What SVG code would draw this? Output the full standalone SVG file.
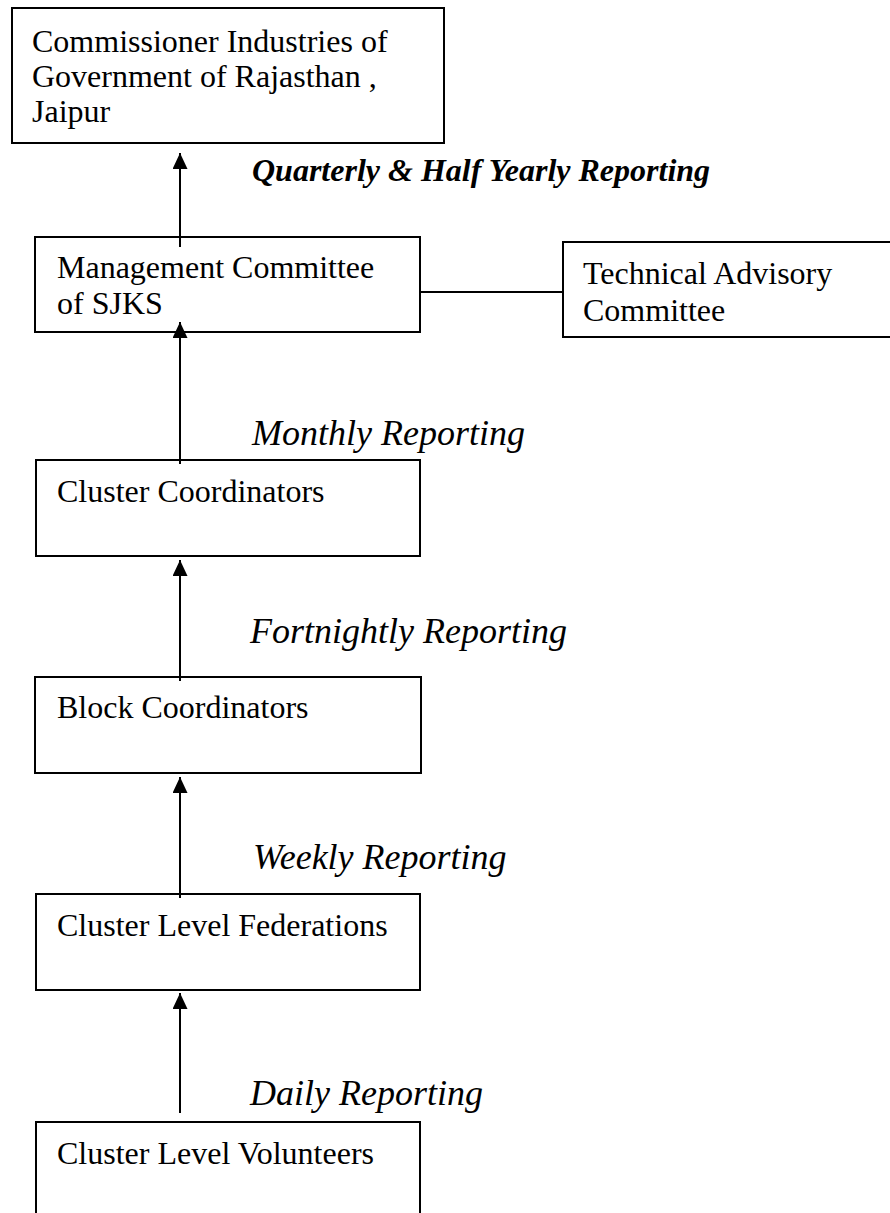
<svg xmlns="http://www.w3.org/2000/svg" width="890" height="1213" viewBox="0 0 890 1213">
<style>
.box{fill:#fff;stroke:#000;stroke-width:2}
.t{font-family:"Liberation Serif","Times New Roman",serif;font-size:32px;fill:#000}
.lbl{font-family:"Liberation Serif","Times New Roman",serif;font-size:36px;font-style:italic;fill:#000}
.lblb{font-family:"Liberation Serif","Times New Roman",serif;font-size:32px;font-style:italic;font-weight:bold;fill:#000}
.c{stroke:#000;stroke-width:2;fill:none}
</style>
<defs>
<marker id="ah" markerUnits="userSpaceOnUse" markerWidth="16" markerHeight="16" refX="16" refY="7.5" orient="auto">
<path d="M0,0 L16,7.5 L0,15 Z" fill="#000"/>
</marker>
</defs>
<rect width="890" height="1213" fill="#fff"/>
<g id="n1">
<rect class="box" x="12" y="8" width="432" height="135"/>
<text class="t" x="32" y="52">Commissioner Industries of</text>
<text class="t" x="32" y="87">Government of Rajasthan ,</text>
<text class="t" x="32" y="122">Jaipur</text>
</g>
<g id="n2">
<rect class="box" x="35" y="237" width="385" height="95"/>
<text class="t" x="57" y="278">Management Committee</text>
<text class="t" x="57" y="314">of SJKS</text>
</g>
<g id="n3">
<rect class="box" x="563" y="242" width="340" height="95"/>
<text class="t" x="583" y="284">Technical Advisory</text>
<text class="t" x="583" y="321">Committee</text>
</g>
<g id="n4">
<rect class="box" x="36" y="460" width="384" height="96"/>
<text class="t" x="57" y="502">Cluster Coordinators</text>
</g>
<g id="n5">
<rect class="box" x="35" y="677" width="386" height="96"/>
<text class="t" x="57" y="718">Block Coordinators</text>
</g>
<g id="n6">
<rect class="box" x="36" y="894" width="384" height="96"/>
<text class="t" x="57" y="936">Cluster Level Federations</text>
</g>
<g id="n7">
<rect class="box" x="36" y="1122" width="384" height="110"/>
<text class="t" x="57" y="1164">Cluster Level Volunteers</text>
</g>
<g id="connectors">
<line class="c" x1="180" y1="247" x2="180" y2="153" marker-end="url(#ah)"/>
<line class="c" x1="180" y1="464" x2="180" y2="322" marker-end="url(#ah)"/>
<line class="c" x1="180" y1="681" x2="180" y2="560" marker-end="url(#ah)"/>
<line class="c" x1="180" y1="898" x2="180" y2="777" marker-end="url(#ah)"/>
<line class="c" x1="180" y1="1113" x2="180" y2="993" marker-end="url(#ah)"/>
<line class="c" x1="420" y1="292" x2="563" y2="292"/>
</g>
<g id="labels">
<text class="lblb" x="252" y="181">Quarterly &amp; Half Yearly Reporting</text>
<text class="lbl" x="252" y="445">Monthly Reporting</text>
<text class="lbl" x="250" y="643">Fortnightly Reporting</text>
<text class="lbl" x="253" y="869">Weekly Reporting</text>
<text class="lbl" x="250" y="1105">Daily Reporting</text>
</g>
</svg>
